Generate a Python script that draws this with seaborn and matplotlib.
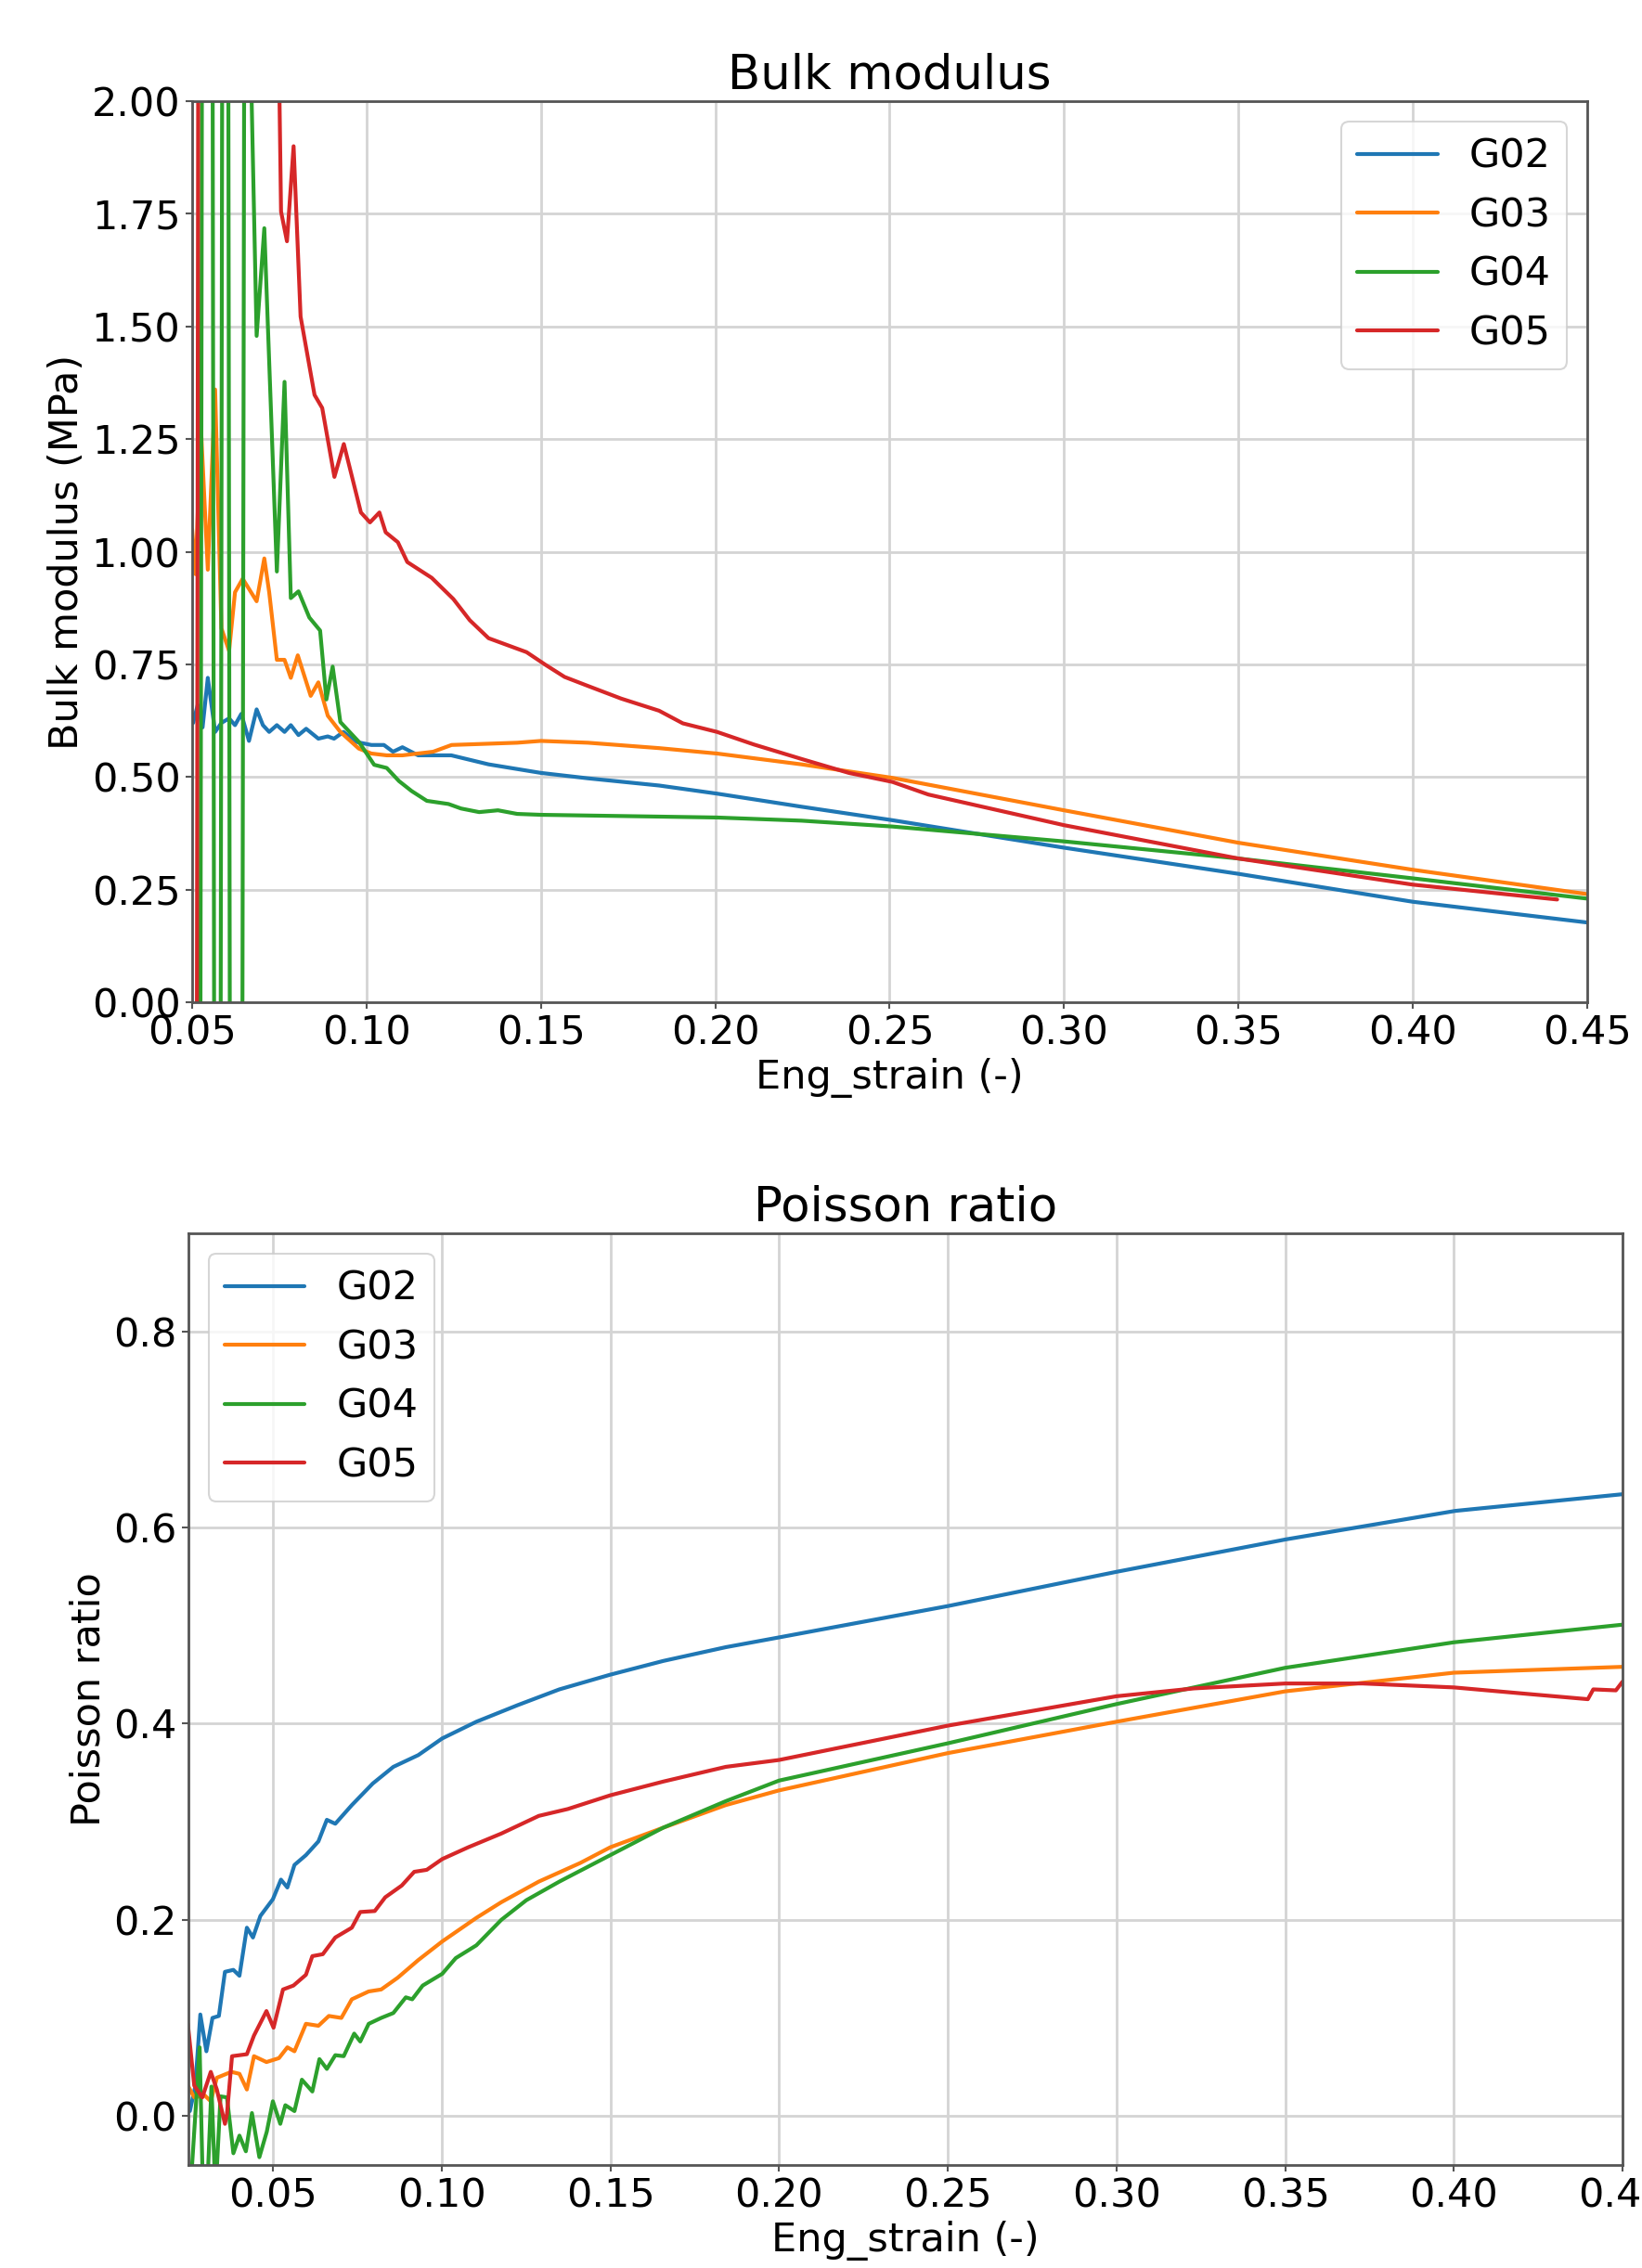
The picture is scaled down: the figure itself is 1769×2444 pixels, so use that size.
import numpy as np
import pandas as pd
import matplotlib
matplotlib.use("Agg")
import matplotlib.pyplot as plt
import seaborn as sns

# ---------------- data ----------------
series_names = ["G02", "G03", "G04", "G05"]
series_colors = ["#1f77b4", "#ff7f0e", "#2ca02c", "#d62728"]

# Bulk modulus (MPa) vs Eng_strain
bk_x_g02 = [0.0500, 0.0503, 0.0516, 0.0530, 0.0545, 0.0566, 0.0584, 0.0606, 0.0623, 0.0641, 0.0663, 0.0685,
            0.0703, 0.0721, 0.0743, 0.0765, 0.0783, 0.0805, 0.0827, 0.0862, 0.0889, 0.0907, 0.0934, 0.0969,
            0.1014, 0.1050, 0.1076, 0.1103, 0.1148, 0.1243, 0.1350, 0.1500, 0.1635, 0.1839, 0.2005, 0.2247,
            0.2508, 0.3000, 0.3500, 0.4000, 0.4500]
bk_y_g02 = [0.64, 0.62, 0.66, 0.61, 0.72, 0.60, 0.62, 0.63, 0.615, 0.64, 0.58, 0.65,
            0.615, 0.60, 0.615, 0.60, 0.615, 0.593, 0.607, 0.585, 0.59, 0.585, 0.60, 0.578,
            0.571, 0.571, 0.556, 0.566, 0.548, 0.548, 0.528, 0.509, 0.497, 0.481, 0.463, 0.434,
            0.404, 0.343, 0.285, 0.223, 0.177]

bk_x_g03 = [0.0500, 0.0510, 0.0525, 0.0545, 0.0566, 0.0584, 0.0606, 0.0623, 0.0645, 0.0685, 0.0707, 0.0721,
            0.0743, 0.0765, 0.0783, 0.0803, 0.0840, 0.0862, 0.0889, 0.0925, 0.0978, 0.1014, 0.1058, 0.1103,
            0.1191, 0.1244, 0.1432, 0.1500, 0.1635, 0.1839, 0.2005, 0.2247, 0.2508, 0.3000, 0.3500, 0.4000,
            0.4500]
bk_y_g03 = [1.05, 0.95, 1.28, 0.96, 1.36, 0.83, 0.78, 0.91, 0.94, 0.89, 0.985, 0.91,
            0.76, 0.76, 0.72, 0.77, 0.68, 0.71, 0.636, 0.60, 0.563, 0.552, 0.548, 0.548,
            0.556, 0.571, 0.576, 0.580, 0.576, 0.564, 0.552, 0.528, 0.498, 0.426, 0.354, 0.294,
            0.240]

bk_x_g04 = [0.0500, 0.0522, 0.0530, 0.0557, 0.0565, 0.0580, 0.0588, 0.0602, 0.0610, 0.0642, 0.0650, 0.0668,
            0.0685, 0.0707, 0.0743, 0.0765, 0.0783, 0.0805, 0.0836, 0.0867, 0.0885, 0.0903, 0.0925, 0.0943,
            0.0978, 0.1022, 0.1058, 0.1093, 0.1129, 0.1173, 0.1235, 0.1271, 0.1323, 0.1377, 0.1432, 0.1500,
            0.1839, 0.2005, 0.2247, 0.2508, 0.3000, 0.3500, 0.4000, 0.4500]
bk_y_g04 = [-1.0, -1.0, 3.0, 3.0, -1.0, -1.0, 3.0, 3.0, -1.0, -1.0, 2.4, 2.1,
            1.479, 1.718, 0.956, 1.377, 0.897, 0.912, 0.854, 0.825, 0.672, 0.745, 0.622, 0.607,
            0.578, 0.527, 0.520, 0.491, 0.469, 0.447, 0.440, 0.430, 0.422, 0.426, 0.418, 0.416,
            0.412, 0.410, 0.403, 0.390, 0.357, 0.319, 0.275, 0.230]

bk_x_g05 = [0.0500, 0.0512, 0.0520, 0.0740, 0.0755, 0.0772, 0.0791, 0.0811, 0.0851, 0.0873, 0.0908, 0.0935,
            0.0984, 0.1010, 0.1037, 0.1055, 0.1090, 0.1117, 0.1187, 0.1249, 0.1296, 0.1350, 0.1459, 0.1513,
            0.1568, 0.1635, 0.1730, 0.1839, 0.1907, 0.2005, 0.2111, 0.2247, 0.2383, 0.2508, 0.2611, 0.3000,
            0.3500, 0.4000, 0.4414]
bk_y_g05 = [-1.0, -1.0, 3.5, 2.6, 1.755, 1.689, 1.90, 1.522, 1.348, 1.319, 1.166, 1.239,
            1.087, 1.065, 1.087, 1.043, 1.021, 0.977, 0.942, 0.895, 0.848, 0.808, 0.777, 0.749,
            0.722, 0.702, 0.674, 0.647, 0.619, 0.600, 0.572, 0.540, 0.509, 0.489, 0.461, 0.393,
            0.319, 0.261, 0.228]

# Poisson ratio vs Eng_strain
pr_x_g02 = [0.0254, 0.0270, 0.0285, 0.0303, 0.0321, 0.0340, 0.0358, 0.0383, 0.0401, 0.0423, 0.0441, 0.0463,
            0.0500, 0.0524, 0.0543, 0.0564, 0.0598, 0.0635, 0.0660, 0.0685, 0.0734, 0.0796, 0.0857, 0.0931,
            0.1002, 0.1103, 0.1226, 0.1349, 0.1500, 0.1657, 0.1842, 0.2000, 0.2501, 0.3002, 0.3503, 0.4004,
            0.4500]
pr_y_g02 = [0.005, 0.03, 0.1035, 0.066, 0.100, 0.102, 0.147, 0.149, 0.143, 0.192, 0.182, 0.204,
            0.221, 0.241, 0.233, 0.256, 0.266, 0.280, 0.302, 0.298, 0.317, 0.339, 0.356, 0.368,
            0.385, 0.402, 0.419, 0.435, 0.450, 0.464, 0.478, 0.488, 0.520, 0.555, 0.588, 0.617,
            0.634]

pr_x_g03 = [0.0248, 0.0267, 0.0298, 0.0316, 0.0334, 0.0377, 0.0401, 0.0423, 0.0444, 0.0481, 0.0518, 0.0543,
            0.0564, 0.0598, 0.0635, 0.0666, 0.0703, 0.0734, 0.0784, 0.0821, 0.0870, 0.0931, 0.1002, 0.1103,
            0.1177, 0.1288, 0.1411, 0.1500, 0.1657, 0.1842, 0.2000, 0.2500, 0.3000, 0.3500, 0.4000, 0.4500]
pr_y_g03 = [0.031, 0.019, 0.021, 0.015, 0.039, 0.045, 0.043, 0.027, 0.061, 0.055, 0.059, 0.070,
            0.066, 0.094, 0.092, 0.102, 0.100, 0.119, 0.127, 0.129, 0.141, 0.159, 0.178, 0.202,
            0.218, 0.239, 0.258, 0.274, 0.294, 0.317, 0.332, 0.370, 0.402, 0.433, 0.452, 0.458]

pr_x_g04 = [0.0255, 0.0283, 0.0293, 0.0305, 0.0318, 0.0330, 0.0345, 0.0364, 0.0383, 0.0401, 0.0420, 0.0438,
            0.0460, 0.0482, 0.0500, 0.0522, 0.0537, 0.0564, 0.0586, 0.0617, 0.0638, 0.0660, 0.0685, 0.0710,
            0.0741, 0.0759, 0.0784, 0.0821, 0.0857, 0.0894, 0.0913, 0.0944, 0.1002, 0.1042, 0.1103, 0.1177,
            0.1251, 0.1349, 0.1500, 0.1657, 0.1842, 0.2000, 0.2500, 0.3000, 0.3500, 0.4000, 0.4500]
pr_y_g04 = [-0.08, 0.07, -0.08, -0.08, 0.03, -0.08, 0.02, 0.019, -0.038, -0.020, -0.036, 0.003,
            -0.042, -0.016, 0.015, -0.008, 0.011, 0.005, 0.037, 0.025, 0.058, 0.048, 0.062, 0.061,
            0.084, 0.076, 0.094, 0.100, 0.105, 0.121, 0.119, 0.133, 0.145, 0.161, 0.174, 0.200,
            0.220, 0.239, 0.266, 0.294, 0.321, 0.342, 0.380, 0.420, 0.457, 0.483, 0.501]

pr_x_g05 = [0.0248, 0.0267, 0.0291, 0.0316, 0.0334, 0.0358, 0.0364, 0.0379, 0.0423, 0.0444, 0.0481, 0.0502,
            0.0530, 0.0561, 0.0598, 0.0617, 0.0648, 0.0685, 0.0734, 0.0759, 0.0802, 0.0833, 0.0882, 0.0919,
            0.0956, 0.1002, 0.1079, 0.1177, 0.1288, 0.1374, 0.1500, 0.1657, 0.1842, 0.2000, 0.2500, 0.3000,
            0.3230, 0.3500, 0.3730, 0.4000, 0.4230, 0.4397, 0.4413, 0.4480, 0.4500]
pr_y_g05 = [0.094, 0.031, 0.019, 0.045, 0.027, -0.008, 0.002, 0.061, 0.063, 0.082, 0.107, 0.090,
            0.129, 0.133, 0.144, 0.163, 0.165, 0.182, 0.192, 0.208, 0.209, 0.223, 0.235, 0.249,
            0.251, 0.262, 0.274, 0.288, 0.306, 0.313, 0.327, 0.341, 0.356, 0.363, 0.398, 0.428,
            0.436, 0.441, 0.441, 0.437, 0.430, 0.425, 0.435, 0.434, 0.443]

bk_x_ticks = [0.05, 0.10, 0.15, 0.20, 0.25, 0.30, 0.35, 0.40, 0.45]
bk_y_ticks = [0.00, 0.25, 0.50, 0.75, 1.00, 1.25, 1.50, 1.75, 2.00]
pr_x_ticks = [0.05, 0.10, 0.15, 0.20, 0.25, 0.30, 0.35, 0.40, 0.45]
pr_y_ticks = [0.0, 0.2, 0.4, 0.6, 0.8]


def long_frame(xs, ys):
    parts = []
    for name, x, y in zip(series_names, xs, ys):
        parts.append(pd.DataFrame({"strain": x, "value": y, "series": name}))
    return pd.concat(parts, ignore_index=True)


bk_df = long_frame([bk_x_g02, bk_x_g03, bk_x_g04, bk_x_g05], [bk_y_g02, bk_y_g03, bk_y_g04, bk_y_g05])
pr_df = long_frame([pr_x_g02, pr_x_g03, pr_x_g04, pr_x_g05], [pr_y_g02, pr_y_g03, pr_y_g04, pr_y_g05])

# ---------------- style ----------------
sns.set_theme(style="whitegrid", rc={
    "axes.edgecolor": "#555555",
    "axes.linewidth": 2.0,
    "grid.color": "#d4d4d4",
    "grid.linewidth": 2.0,
    "xtick.bottom": True,
    "ytick.left": True,
    "xtick.color": "#555555",
    "ytick.color": "#555555",
    "xtick.labelcolor": "black",
    "ytick.labelcolor": "black",
    "xtick.major.size": 5,
    "ytick.major.size": 5,
    "xtick.major.width": 1.5,
    "ytick.major.width": 1.5,
    "xtick.major.pad": 4,
    "ytick.major.pad": 4,
    "font.size": 31,
    "axes.labelsize": 31,
    "axes.titlesize": 37,
    "xtick.labelsize": 31,
    "ytick.labelsize": 31,
    "legend.fontsize": 31,
    "text.color": "black",
    "axes.labelcolor": "black",
})
plt.rcParams["font.family"] = ["DejaVu Sans"]

palette = dict(zip(series_names, series_colors))

fig = plt.figure(figsize=(17.69, 24.44), dpi=100)
ax1 = fig.add_axes([0.1170, 0.5581, 0.8496, 0.3973])
ax2 = fig.add_axes([0.1148, 0.0454, 0.8734, 0.4108])

LW = 3.0

sns.lineplot(data=bk_df, x="strain", y="value", hue="series", palette=palette,
             estimator=None, sort=False, linewidth=LW, ax=ax1)
ax1.set_xlim(0.05, 0.45)
ax1.set_ylim(0.0, 2.0)
ax1.set_xticks(bk_x_ticks)
ax1.set_yticks(bk_y_ticks)
ax1.set_xticklabels([f"{v:.2f}" for v in bk_x_ticks])
ax1.set_yticklabels([f"{v:.2f}" for v in bk_y_ticks])
ax1.set_title("Bulk modulus", pad=10)
ax1.set_xlabel("Eng_strain (-)")
ax1.set_ylabel("Bulk modulus (MPa)")
leg1 = ax1.legend(loc="upper right", frameon=True, fancybox=True, framealpha=0.8)
leg1.get_frame().set_edgecolor("#cccccc")
leg1.get_frame().set_linewidth(1.5)
for line in leg1.get_lines():
    line.set_linewidth(LW)

sns.lineplot(data=pr_df, x="strain", y="value", hue="series", palette=palette,
             estimator=None, sort=False, linewidth=LW, ax=ax2)
ax2.set_xlim(0.025, 0.45)
ax2.set_ylim(-0.05, 0.9)
ax2.set_xticks(pr_x_ticks)
ax2.set_yticks(pr_y_ticks)
ax2.set_xticklabels([f"{v:.2f}" for v in pr_x_ticks])
ax2.set_yticklabels([f"{v:.1f}" for v in pr_y_ticks])
ax2.set_title("Poisson ratio", pad=10)
ax2.set_xlabel("Eng_strain (-)")
ax2.set_ylabel("Poisson ratio")
leg2 = ax2.legend(loc="upper left", frameon=True, fancybox=True, framealpha=0.8)
leg2.get_frame().set_edgecolor("#cccccc")
leg2.get_frame().set_linewidth(1.5)
for line in leg2.get_lines():
    line.set_linewidth(LW)

for ax in (ax1, ax2):
    for sp in ax.spines.values():
        sp.set_visible(True)
        sp.set_color("#555555")
        sp.set_linewidth(2.0)
    ax.set_facecolor("white")

fig.savefig("out.png", dpi=100, facecolor="white")
